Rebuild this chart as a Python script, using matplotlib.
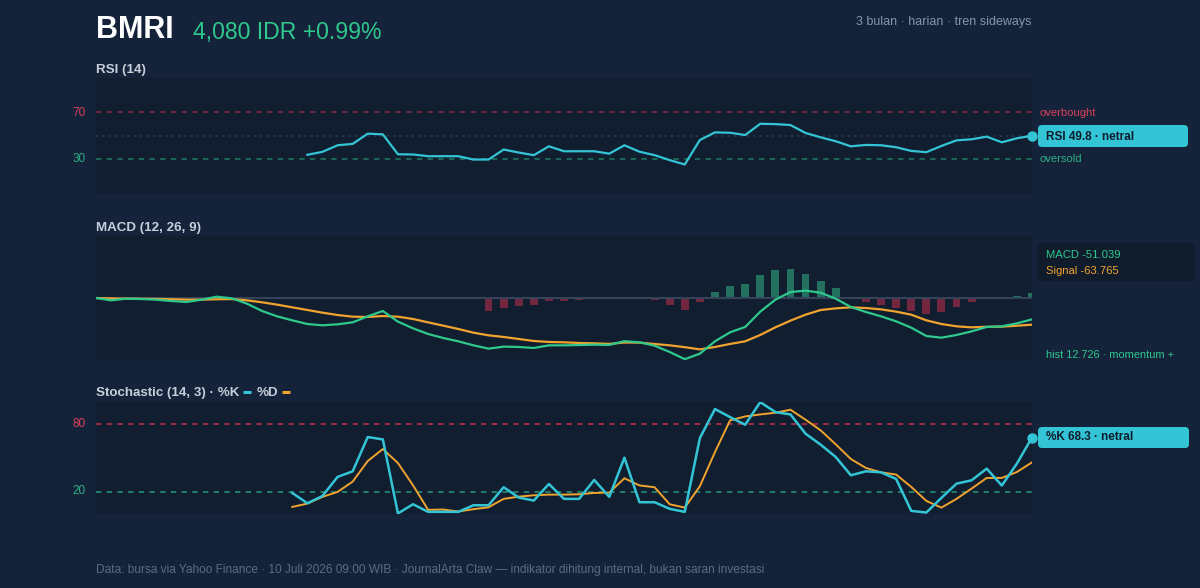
import numpy as np
import matplotlib.pyplot as plt
from matplotlib.patches import FancyBboxPatch
from matplotlib.lines import Line2D
from matplotlib.transforms import IdentityTransform

nan = np.nan

# ---- data (63 trading days) ----
n_days = 63
days = np.arange(n_days)

rsi = [nan] * 14 + [
    33.2, 35.8, 41.5, 42.7, 51.6, 51.0, 33.7, 33.5, 32.0, 32.0, 32.0, 29.1, 29.1,
    37.8, 35.2, 32.9, 40.6, 36.3, 36.3, 36.3, 34.2, 41.5, 35.9, 32.9, 28.6, 24.8,
    46.1, 52.7, 52.4, 50.4, 60.2, 59.9, 59.1, 52.2, 48.4, 45.0, 40.6, 41.8, 41.5,
    39.8, 36.6, 35.5, 40.9, 45.8, 46.7, 49.0, 44.1, 47.6, 49.8]

macd = [
    0.0, -5.6, -1.6, -2.4, -4.0, -7.2, -9.5, -4.0, 3.2, -0.8, -13.5, -31.0, -43.8,
    -53.3, -62.1, -65.2, -62.8, -58.1, -43.8, -31.0, -56.5, -72.4, -85.9, -95.5,
    -103.4, -113.0, -120.9, -116.1, -116.9, -119.3, -113.0, -113.0, -112.2, -111.4,
    -112.0, -103.0, -105.8, -113.8, -128.9, -146.0, -132.9, -103.4, -81.9, -69.2,
    -32.6, -4.0, 14.3, 17.5, 12.7, -1.6, -21.5, -33.4, -43.8, -55.7, -70.8, -90.7,
    -94.7, -88.3, -79.6, -69.2, -67.6, -60.5, -51.039]

signal = [
    0.0, -1.0, -1.5, -1.8, -2.2, -3.0, -4.0, -4.0, -3.0, -2.6, -5.6, -10.3, -15.9,
    -22.3, -28.6, -35.0, -40.6, -44.6, -45.3, -43.0, -44.6, -50.1, -58.1, -66.0,
    -74.0, -82.7, -89.1, -93.0, -97.8, -102.6, -105.0, -105.8, -107.4, -108.2,
    -109.6, -106.2, -106.6, -109.8, -113.0, -117.4, -122.6, -116.9, -109.7, -103.4,
    -88.3, -70.0, -54.1, -39.8, -28.7, -24.7, -22.3, -23.9, -27.1, -32.6, -39.8,
    -53.3, -62.1, -67.6, -70.1, -68.7, -68.4, -66.1, -63.765]

hist = [nan] * 26 + [
    -31.8, -23.1, -19.1, -16.7, -8.0, -7.2, -4.8, -3.2, -2.4, 3.2, 0.8, -4.0, -15.9,
    -28.6, -10.3, 13.5, 27.8, 34.2, 55.7, 66.0, 68.4, 57.3, 41.4, 23.1, 0.8, -9.5,
    -16.7, -23.1, -31.0, -37.4, -32.6, -20.7, -9.5, -0.5, 0.8, 5.6, 12.726]

stoch_k = [nan] * 13 + [
    18.8, 9.6, 16.1, 33.1, 38.1, 68.7, 66.6, 0.5, 8.7, 1.9, 1.9, 1.9, 7.8, 7.8,
    23.9, 14.7, 12.0, 26.8, 13.5, 13.5, 30.4, 15.3, 50.3, 10.5, 10.5, 4.6, 1.9,
    67.8, 93.7, 86.5, 79.7, 99.9, 91.0, 88.9, 71.7, 61.9, 50.9, 34.6, 38.1, 37.2,
    31.3, 2.8, 1.3, 14.4, 27.1, 30.1, 40.5, 25.4, 45.0, 68.3]

stoch_d = [nan] * 13 + [
    6.3, 9.3, 15.3, 19.7, 28.9, 47.3, 58.0, 45.5, 25.6, 3.7, 4.0, 2.2, 4.3, 6.0,
    13.5, 15.5, 16.7, 17.3, 17.3, 17.6, 18.8, 19.1, 31.9, 25.5, 23.9, 8.7, 5.7,
    24.8, 55.3, 83.6, 87.1, 88.9, 90.4, 93.1, 84.2, 74.7, 62.2, 49.1, 41.1, 37.2,
    35.2, 24.2, 11.7, 5.7, 13.5, 22.7, 32.2, 32.2, 37.5, 46.1]

# ---- colours ----
BG = '#15233a'
PANEL = '#111e30'
CYAN = '#33c5d6'
GREEN = '#2fc88d'
ORANGE = '#f0a32e'
RED = '#e0364f'
TITLE = '#c6cedb'
MUTED = '#8795aa'
FOOT = '#5c6c84'

plt.rcParams['font.family'] = ['Liberation Sans', 'DejaVu Sans']

W, H = 1200, 588
fig = plt.figure(figsize=(W / 100, H / 100), dpi=100, facecolor=BG)
pix = IdentityTransform()


def ftext(x, y, s, **kw):
    # x, y in pixels from the top-left corner
    return fig.text(x / W, 1 - y / H, s, **kw)


def panel(top, bottom):
    ax = fig.add_axes([96 / W, 1 - bottom / H, 936 / W, (bottom - top) / H])
    ax.set_facecolor(PANEL)
    for s in ax.spines.values():
        s.set_visible(False)
    ax.set_xticks([])
    ax.set_yticks([])
    ax.set_xlim(0, n_days - 1)
    return ax


def label_box(x0, y0, x1, y1, color):
    box = FancyBboxPatch((x0, H - y1), x1 - x0, y1 - y0,
                         boxstyle='round,pad=0,rounding_size=4',
                         transform=pix, facecolor=color, edgecolor='none')
    fig.patches.append(box)


# ---- header ----
ftext(96, 38.5, 'BMRI', color='white', fontsize=22, fontweight='bold', va='baseline')
ftext(193, 38.5, '4,080 IDR +0.99%', color=GREEN, fontsize=16.6, va='baseline')
ftext(1032, 25.5, '3 bulan \u00b7 harian \u00b7 tren sideways', color=MUTED,
      fontsize=9, ha='right', va='baseline')

# ---- RSI ----
ax1 = panel(78, 193)
ax1.set_ylim(0, 100)
ax1.axhline(70, color='#8a2b44', lw=1.1, ls=(0, (3.5, 3.5)))
ax1.axhline(30, color='#1f7c63', lw=1.1, ls=(0, (3.5, 3.5)))
ax1.axhline(50, color='#2e3d52', lw=1.3, ls=(0, (1, 2.5)))
ax1.plot(days, rsi, color=CYAN, lw=1.6)
ax1.plot(days[-1], rsi[-1], 'o', color=CYAN, ms=6.5, clip_on=False)
ftext(96, 72.5, 'RSI (14)', color=TITLE, fontsize=9.6, fontweight='bold', va='baseline')
ftext(86, 113, '70', color='#d8415a', fontsize=8.5, ha='right', va='center')
ftext(86, 159, '30', color='#2bb083', fontsize=8.5, ha='right', va='center')
ftext(1040, 113, 'overbought', color='#d8415a', fontsize=8.1, va='center')
ftext(1040, 159, 'oversold', color='#2bb083', fontsize=8.1, va='center')
label_box(1038, 125, 1188, 147, CYAN)
ftext(1046, 136.5, 'RSI %.1f \u00b7 netral' % rsi[-1], color='#0f1b2b',
      fontsize=8.5, fontweight='bold', va='center')

# ---- MACD ----
ax2 = panel(236, 360)
ax2.set_ylim(-148, 148)
ax2.axhline(0, color='#35435a', lw=1.5)
hist_arr = np.nan_to_num(np.array(hist))
bar_cols = ['#24705f' if v >= 0 else '#72273f' for v in hist_arr]
ax2.bar(days, hist_arr, width=0.52, color=bar_cols)
ax2.plot(days, signal, color=ORANGE, lw=1.6)
ax2.plot(days, macd, color=GREEN, lw=1.6)
ftext(96, 230.5, 'MACD (12, 26, 9)', color=TITLE, fontsize=9.6, fontweight='bold',
      va='baseline')
label_box(1038, 242, 1194, 281, '#101b2c')
ftext(1046, 254.5, 'MACD %.3f' % macd[-1], color=GREEN, fontsize=8.1, va='center')
ftext(1046, 270.5, 'Signal %.3f' % signal[-1], color=ORANGE, fontsize=8.1, va='center')
ftext(1046, 354.5, 'hist %.3f \u00b7 momentum +' % hist[-1], color=GREEN,
      fontsize=7.9, va='center')

# ---- Stochastic ----
ax3 = panel(402, 514)
ax3.set_ylim(0, 100)
ax3.axhline(80, color='#c8304a', lw=1.1, ls=(0, (3.5, 3.5)))
ax3.axhline(20, color='#27987a', lw=1.1, ls=(0, (3.5, 3.5)))
ax3.plot(days, stoch_d, color=ORANGE, lw=1.4)
ax3.plot(days, stoch_k, color=CYAN, lw=1.8)
ax3.plot(days[-1], stoch_k[-1], 'o', color=CYAN, ms=6.5, clip_on=False)
ftext(86, 424, '80', color='#d8415a', fontsize=8.5, ha='right', va='center')
ftext(86, 491, '20', color='#2bb083', fontsize=8.5, ha='right', va='center')
label_box(1038, 427, 1189, 448, CYAN)
ftext(1046, 437.5, '%%K %.1f \u00b7 netral' % stoch_k[-1], color='#0f1b2b',
      fontsize=8.5, fontweight='bold', va='center')

# title with coloured legend swatches, placed piece by piece
renderer = fig.canvas.get_renderer()
xpos = 96
for txt, col in [('Stochastic (14, 3) \u00b7 %K', CYAN), ('%D', ORANGE)]:
    t = ftext(xpos, 396, txt, color=TITLE, fontsize=9.6, fontweight='bold',
              va='baseline')
    xpos += t.get_window_extent(renderer).width + 4
    fig.add_artist(Line2D([xpos, xpos + 8], [H - 391.5, H - 391.5], color=col,
                          lw=2.2, transform=pix, solid_capstyle='butt'))
    xpos += 13

# ---- footer ----
ftext(96, 573, 'Data: bursa via Yahoo Finance \u00b7 10 Juli 2026 09:00 WIB \u00b7 '
      'JournalArta Claw \u2014 indikator dihitung internal, bukan saran investasi',
      color=FOOT, fontsize=8.6, va='baseline')

fig.savefig('out.png', dpi=100, facecolor=BG)
